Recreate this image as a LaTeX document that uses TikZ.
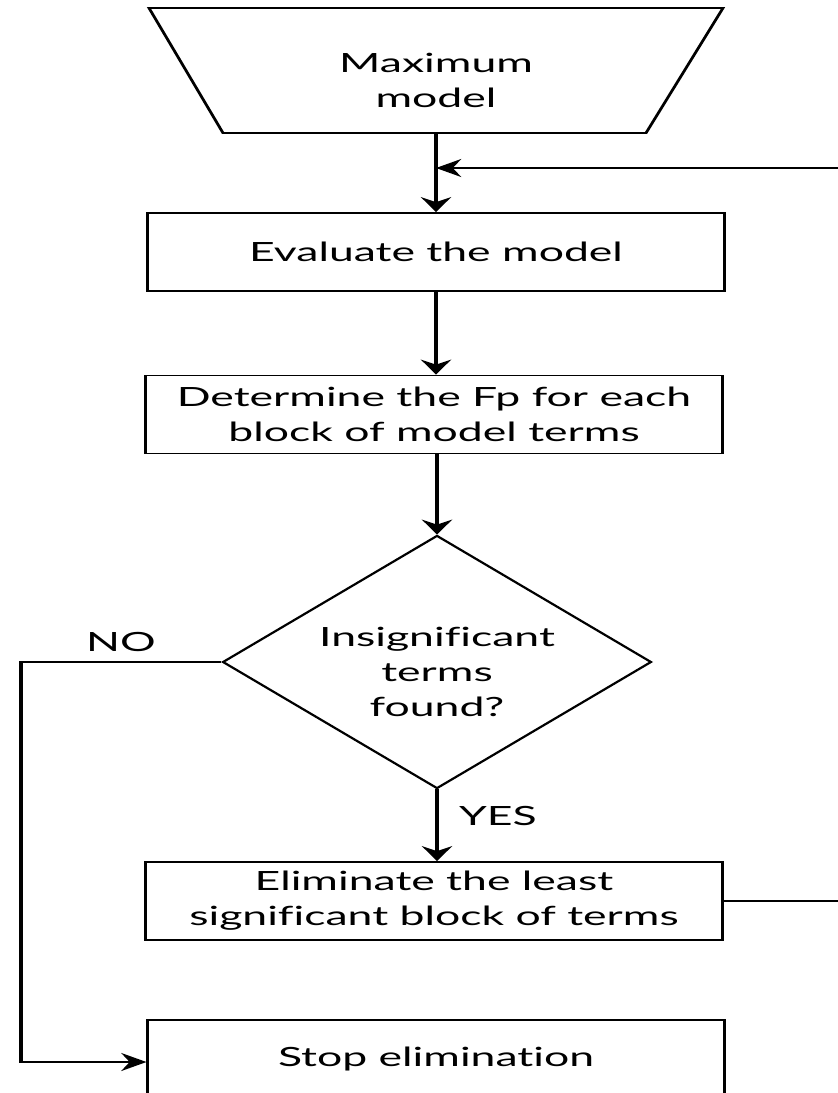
\documentclass[tikz,border=0pt]{standalone}
\usepackage{fontspec}
\setmainfont{Lato}[Ligatures=NoCommon]
\usetikzlibrary{shapes.geometric,arrows.meta}
\begin{document}
\begin{tikzpicture}[x=1pt,y=-1pt,
  every node/.style={font=\fontsize{26.5}{35}\selectfont, inner sep=0pt, align=center},
  box/.style={draw, line width=1.8pt, minimum width=342.9pt, minimum height=78pt},
  line/.style={line width=1.8pt},
  arr/.style={line, -{Stealth[length=15pt,width=18pt,inset=5pt]}}]
\useasboundingbox (0,0) rectangle (838,1093);
\fill[white] (0,0) rectangle (838,1093);
\begin{scope}[transform canvas={xscale=1.68}, x=0.595238pt]
\clip (0,0) rectangle (838,1093);
% trapezoid
\coordinate (t1) at (149,8);
\coordinate (t2) at (723,8);
\coordinate (t3) at (646,133);
\coordinate (t4) at (223,133);
\draw[line, line join=miter] (t1) -- (t2) -- (t3) -- (t4) -- cycle;
\node (maxm) at (436,80) {Maximum\\model};
\coordinate (maxb) at (436,133);
\node[box] (eval) at (436,252) {Evaluate the model};
\node[box] (det) at (434,414.5) {Determine the Fp for each\\block of model terms};
\node[draw, line width=1.8pt, diamond, minimum width=255.4pt, minimum height=253pt, aspect=1] (dec) at (437,662) {};
\node at (437,672) {Insignificant\\terms\\found?};
\node[box] (elim) at (434,901) {Eliminate the least\\significant block of terms};
\node[box] (stop) at (436,1059) {Stop elimination};
\node (no) at (121,642) {NO};
\node (yes) at (498,816) {YES};
\coordinate (merge) at (436,168);
\coordinate (rtop) at (900,168);
\coordinate (rbot) at (900,901);
\coordinate (nol) at (21,662);
\coordinate (nob) at (21,1062);
\draw[arr] (maxb) -- (eval.north);
\draw[arr] (rtop) -- (merge);
\draw[arr] (eval.south) -- (eval.south |- det.north);
\draw[arr] (det.south -| dec.north) -- (dec.north);
\draw[arr] (dec.south) -- (dec.south |- elim.north);
\draw[line] (elim.east) -- (rbot) -- (rtop);
\draw[arr] (dec.west) -- (nol) -- (nob) -- (nob -| stop.west);
\end{scope}
\end{tikzpicture}
\end{document}
